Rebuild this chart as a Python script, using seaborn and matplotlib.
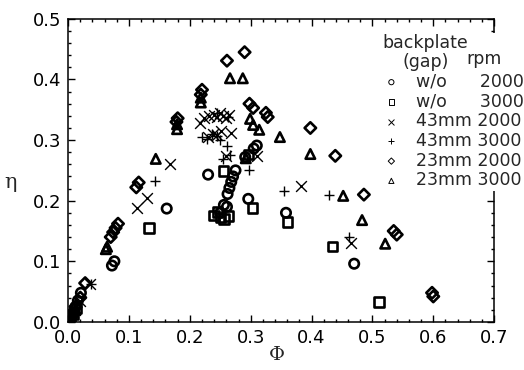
import seaborn as sns
import matplotlib.pyplot as plt
from matplotlib.ticker import MultipleLocator, FormatStrFormatter

# values (phi = flow coefficient, eta = efficiency)
wo_2000_phi = [0.004, 0.008, 0.012, 0.016, 0.021, 0.072, 0.076, 0.162, 0.230, 0.250, 0.256,
               0.261, 0.262, 0.265, 0.268, 0.271, 0.275, 0.291, 0.296, 0.305, 0.310, 0.358, 0.470]
wo_2000_eta = [0.006, 0.015, 0.025, 0.035, 0.048, 0.093, 0.100, 0.187, 0.243, 0.180, 0.193,
               0.190, 0.211, 0.221, 0.231, 0.240, 0.250, 0.272, 0.203, 0.286, 0.291, 0.180, 0.096]

wo_3000_phi = [0.004, 0.009, 0.014, 0.133, 0.240, 0.245, 0.250, 0.256, 0.264, 0.255,
               0.296, 0.303, 0.360, 0.434, 0.511]
wo_3000_eta = [0.004, 0.012, 0.022, 0.155, 0.176, 0.181, 0.172, 0.170, 0.175, 0.249,
               0.276, 0.188, 0.165, 0.124, 0.033]

g43_2000_phi = [0.005, 0.012, 0.020, 0.036, 0.114, 0.129, 0.168, 0.216, 0.223, 0.232, 0.240,
                0.245, 0.250, 0.255, 0.260, 0.265, 0.230, 0.238, 0.245, 0.252, 0.268, 0.260,
                0.310, 0.383, 0.465]
g43_2000_eta = [0.005, 0.020, 0.035, 0.063, 0.188, 0.205, 0.260, 0.328, 0.336, 0.340, 0.342,
                0.338, 0.344, 0.340, 0.336, 0.342, 0.305, 0.310, 0.308, 0.315, 0.312, 0.273,
                0.273, 0.224, 0.131]

g43_3000_phi = [0.008, 0.015, 0.038, 0.142, 0.220, 0.228, 0.236, 0.244, 0.250, 0.245, 0.262,
                0.261, 0.266, 0.255, 0.297, 0.355, 0.428, 0.462]
g43_3000_eta = [0.010, 0.025, 0.063, 0.232, 0.305, 0.302, 0.310, 0.306, 0.300, 0.345, 0.338,
                0.290, 0.276, 0.268, 0.251, 0.216, 0.210, 0.140]

g23_2000_phi = [0.005, 0.012, 0.020, 0.028, 0.070, 0.074, 0.078, 0.082, 0.112, 0.116, 0.178,
                0.180, 0.218, 0.220, 0.261, 0.290, 0.298, 0.304, 0.325, 0.328, 0.398, 0.439,
                0.486, 0.535, 0.540, 0.598, 0.600]
g23_2000_eta = [0.008, 0.025, 0.040, 0.064, 0.140, 0.148, 0.155, 0.162, 0.222, 0.230, 0.330,
                0.336, 0.375, 0.383, 0.431, 0.445, 0.360, 0.353, 0.345, 0.338, 0.320, 0.274,
                0.210, 0.150, 0.144, 0.048, 0.042]

g23_3000_phi = [0.005, 0.012, 0.062, 0.064, 0.144, 0.179, 0.179, 0.218, 0.218, 0.266, 0.287,
                0.299, 0.304, 0.314, 0.348, 0.292, 0.398, 0.452, 0.483, 0.521]
g23_3000_eta = [0.005, 0.020, 0.120, 0.124, 0.269, 0.318, 0.326, 0.362, 0.370, 0.402, 0.402,
                0.335, 0.325, 0.317, 0.305, 0.270, 0.277, 0.208, 0.168, 0.129]

series = [
    ("w/o      2000", "o", wo_2000_phi, wo_2000_eta),
    ("w/o      3000", "s", wo_3000_phi, wo_3000_eta),
    ("43mm 2000", "x", g43_2000_phi, g43_2000_eta),
    ("43mm 3000", "+", g43_3000_phi, g43_3000_eta),
    ("23mm 2000", "D", g23_2000_phi, g23_2000_eta),
    ("23mm 3000", "^", g23_3000_phi, g23_3000_eta),
]

sns.set_style("ticks")
plt.rcParams["font.family"] = ["DejaVu Sans"]

fig, ax = plt.subplots(figsize=(5.24, 3.70), dpi=100)
fig.subplots_adjust(left=0.130, right=0.943, top=0.949, bottom=0.130)

for label, marker, phi, eta in series:
    if marker in ("x", "+"):
        sns.scatterplot(x=phi, y=eta, marker=marker, color="black", s=60,
                        linewidth=1.0, label=label, ax=ax)
    else:
        size = 34 if marker == "D" else 46
        sns.scatterplot(x=phi, y=eta, marker=marker, facecolor="none",
                        edgecolor="black", s=size, linewidth=1.9, label=label, ax=ax)

ax.set_xlim(0, 0.7)
ax.set_ylim(0, 0.5)
ax.xaxis.set_major_locator(MultipleLocator(0.1))
ax.xaxis.set_minor_locator(MultipleLocator(0.02))
ax.yaxis.set_major_locator(MultipleLocator(0.1))
ax.yaxis.set_minor_locator(MultipleLocator(0.02))
ax.xaxis.set_major_formatter(FormatStrFormatter("%.1f"))
ax.yaxis.set_major_formatter(FormatStrFormatter("%.1f"))
ax.tick_params(which="both", direction="in", top=True, right=True, width=1.0,
               labelsize=13, colors="black")
ax.tick_params(which="major", length=5, pad=5)
ax.tick_params(which="minor", length=2.5)
for sp in ax.spines.values():
    sp.set_linewidth(1.1)
    sp.set_color("black")

ax.set_xlabel("Φ", fontsize=14, family="DejaVu Serif")
ax.set_ylabel("η", fontsize=15, family="DejaVu Serif", rotation=0)
ax.xaxis.set_label_coords(0.49, -0.08)
ax.yaxis.set_label_coords(-0.135, 0.43)

leg = ax.legend(title="backplate\n(gap)", loc="upper left",
                bbox_to_anchor=(0.727, 0.912), bbox_transform=fig.transFigure,
                frameon=True, fancybox=False, edgecolor="none", framealpha=1,
                fontsize=12.5, title_fontsize=12.5, markerscale=0.55,
                handlelength=1.0, handletextpad=0.9, labelspacing=0.1,
                borderpad=0.1, borderaxespad=0, alignment="left")
leg.get_title().set_multialignment("center")
leg.get_title().set_linespacing(1.05)
leg.set_zorder(5)
for h in leg.legend_handles:
    h.set_linewidth(0.7)
fig.text(0.924, 0.840, "rpm", fontsize=12.5, ha="center", va="center", zorder=6)

fig.savefig("out.png", dpi=100)
